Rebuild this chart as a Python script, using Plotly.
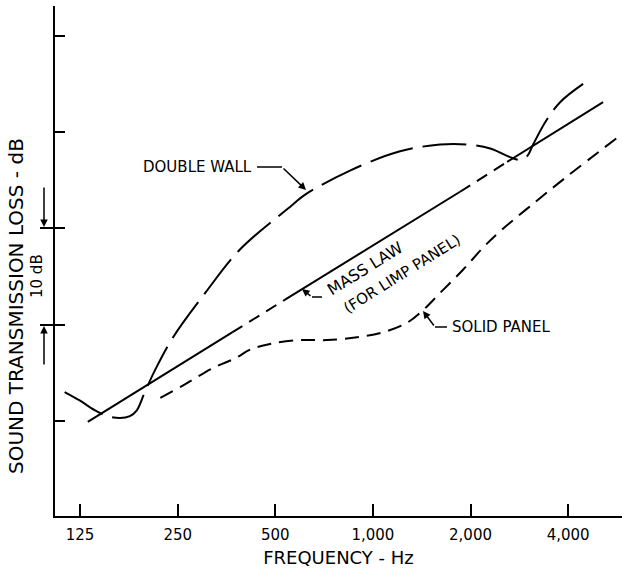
import plotly.graph_objects as go

# values (frequency in Hz, transmission loss in dB)
x_ticks = [125, 250, 500, 1000, 2000, 4000]
x_ticktext = ["125", "250", "500", "1,000", "2,000", "4,000"]
y_ticks = [20, 30, 40, 50, 60]

# mass law line: solid pieces and dashed pieces
mass_f_solid = [132, 368, None, 536, 1857, None, 2594, 5129]
mass_tl_solid = [19.9, 29.2, None, 32.6, 43.8, None, 46.9, 53.1]
mass_f_dash = [368, 536, None, 1857, 2594]
mass_tl_dash = [29.2, 32.6, None, 43.8, 46.9]

double_f = [112, 125, 139, 152, 166, 178, 187, 198, 213, 242, 304, 389, 563,
            618, 850, 1213, 1612, 1950, 2300, 2650, 2845, 2990, 3120, 3396, 3779, 4450]
double_tl = [23.0, 22.1, 21.1, 20.5, 20.3, 20.5, 21.1, 23.0, 25.3, 28.7, 33.3,
             37.8, 42.4, 43.5, 46.0, 48.0, 48.7, 48.7, 48.3, 47.4, 47.1, 47.5,
             48.7, 51.0, 53.1, 55.0]

solid_f = [221, 260, 321, 376, 418, 482, 596, 722, 894, 1075, 1275, 1428, 1612,
           1897, 2187, 2468, 3054, 3972, 5665]
solid_tl = [22.4, 23.7, 25.5, 26.5, 27.4, 28.0, 28.4, 28.4, 28.7, 29.2, 30.2,
            31.5, 33.3, 35.7, 38.0, 39.7, 42.3, 45.4, 49.4]

W, H = 622, 569
L, R, T, B = 55, 0, 6, 53
FONT = "DejaVu Sans"


def pp(px, py):
    # pixel position -> paper coords
    return (px - L) / (W - L - R), (H - B - py) / (H - T - B)


line = dict(color="black", width=2)
fig = go.Figure()
fig.add_trace(go.Scatter(x=mass_f_solid, y=mass_tl_solid, mode="lines", line=line))
fig.add_trace(go.Scatter(x=mass_f_dash, y=mass_tl_dash, mode="lines",
                         line=dict(color="black", width=2, dash="12px,8px")))
fig.add_trace(go.Scatter(x=double_f, y=double_tl, mode="lines", line_shape="spline",
                         line=dict(color="black", width=2, dash="44px,10px")))
fig.add_trace(go.Scatter(x=solid_f, y=solid_tl, mode="lines", line_shape="spline",
                         line=dict(color="black", width=2, dash="14px,8px")))

annotations = []
shapes = []


def text(px, py, s, size=15, angle=0, xanchor="center"):
    x, y = pp(px, py)
    annotations.append(dict(x=x, y=y, xref="paper", yref="paper", text=s, showarrow=False,
                            textangle=angle, xanchor=xanchor, yanchor="middle",
                            font=dict(family=FONT, size=size, color="black")))


def arrow(tip, tail):
    x, y = pp(*tip)
    annotations.append(dict(x=x, y=y, xref="paper", yref="paper", text="", showarrow=True,
                            ax=tail[0] - tip[0], ay=tail[1] - tip[1], arrowhead=2,
                            arrowsize=1, arrowwidth=1.5, arrowcolor="black"))


def seg(p0, p1, width=1.5):
    x0, y0 = pp(*p0)
    x1, y1 = pp(*p1)
    shapes.append(dict(type="line", xref="paper", yref="paper", x0=x0, y0=y0, x1=x1, y1=y1,
                       line=dict(color="black", width=width)))


# labels with leaders
text(141, 167, "DOUBLE WALL", xanchor="left")
seg((257, 167), (282, 167))
arrow((306, 190), (282, 167))

text(365, 268, "MASS LAW", size=16, angle=-32)
text(402, 274, "(FOR LIMP PANEL)", angle=-32)
seg((322, 297), (312, 297))
arrow((302, 289), (312, 297))

text(450, 327, "SOLID PANEL", xanchor="left")
seg((435, 327), (447, 327))
arrow((423, 311), (435, 327))

# 10 dB scale bracket on the y axis
seg((40, 228), (55, 228), width=2)
seg((40, 325), (55, 325), width=2)
arrow((44, 227), (44, 186))
arrow((44, 326), (44, 366))
text(37, 276, "10 dB", size=15, angle=-90)

text(16, 306, "SOUND TRANSMISSION LOSS - dB", size=20, angle=-90)

fig.update_layout(
    width=W, height=H,
    margin=dict(l=L, r=R, t=T, b=B),
    plot_bgcolor="white", paper_bgcolor="white",
    showlegend=False,
    font=dict(family=FONT, size=15, color="black"),
    annotations=annotations,
    shapes=shapes,
    xaxis=dict(type="log", range=[2.0195, 3.7683], tickvals=x_ticks, ticktext=x_ticktext,
               ticks="inside", ticklen=12, tickwidth=1.5, tickcolor="black",
               ticklabelstandoff=4,
               showline=True, linewidth=2, linecolor="black", showgrid=False,
               zeroline=False, title=dict(text="FREQUENCY - Hz", standoff=8)),
    yaxis=dict(range=[10.13, 63.09], tickvals=y_ticks, showticklabels=False,
               ticks="inside", ticklen=10, tickwidth=1.5, tickcolor="black",
               showline=True, linewidth=2, linecolor="black", showgrid=False,
               zeroline=False),
)

# the page body has a default 8px margin; remove it so the figure sits at 0,0
fig.write_html("out.html", config={"displayModeBar": False},
               post_script="document.body.style.margin='0px';")
